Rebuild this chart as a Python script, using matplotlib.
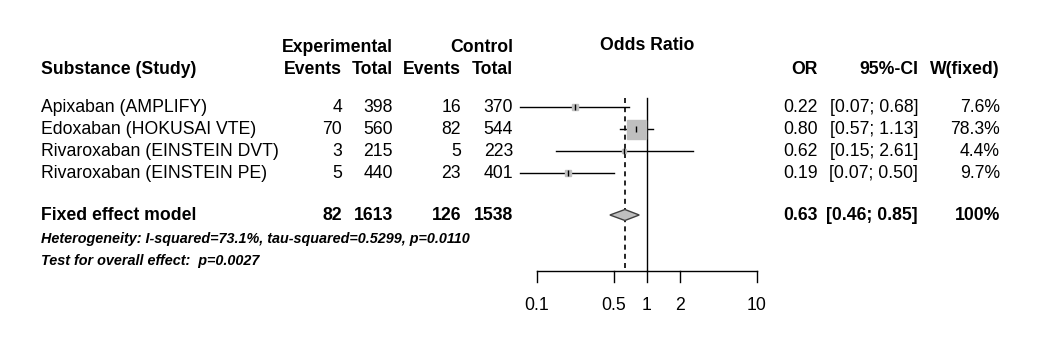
import matplotlib.pyplot as plt
import numpy as np

plt.rcParams["font.family"] = ["Liberation Sans", "DejaVu Sans"]

STUDIES = ["Apixaban (AMPLIFY)", "Edoxaban (HOKUSAI VTE)",
           "Rivaroxaban (EINSTEIN DVT)", "Rivaroxaban (EINSTEIN PE)"]
EVENTS_EXP = [4, 70, 3, 5]
TOTAL_EXP = [398, 560, 215, 440]
EVENTS_CTRL = [16, 82, 5, 23]
TOTAL_CTRL = [370, 544, 223, 401]
OR = [0.22, 0.80, 0.62, 0.19]
CI_LO = [0.07, 0.57, 0.15, 0.07]
CI_HI = [0.68, 1.13, 2.61, 0.50]
WEIGHT = [7.6, 78.3, 4.4, 9.7]

POOLED_OR = 0.63
POOLED_LO = 0.46
POOLED_HI = 0.85
POOLED_EV_EXP, POOLED_N_EXP = 82, 1613
POOLED_EV_CTRL, POOLED_N_CTRL = 126, 1538
HET_TEXT = "Heterogeneity: I-squared=73.1%, tau-squared=0.5299, p=0.0110"
TEST_TEXT = "Test for overall effect:  p=0.0027"
XTICKS = [0.1, 0.5, 1, 2, 10]

W, H = 1040, 350
fig = plt.figure(figsize=(W / 100, H / 100), dpi=100)

# text layer in pixel coordinates (y from top)
tax = fig.add_axes([0, 0, 1, 1])
tax.set_xlim(0, W)
tax.set_ylim(H, 0)
tax.axis("off")

# forest layer: 0.1 .. 10 on a log scale, same vertical pixel coords
fx0, fx1 = 537, 757
fax = fig.add_axes([fx0 / W, 0, (fx1 - fx0) / W, 1])
fax.set_xscale("log")
fax.set_xlim(0.1, 10)
fax.set_ylim(H, 0)
fax.axis("off")

FS = 12.7
row_y = [107, 129, 151, 173]
pooled_y = 215


def txt(x, y, s, ha="left", bold=False, **kw):
    tax.text(x, y, s, ha=ha, va="center", fontsize=kw.pop("fontsize", FS),
             fontweight="bold" if bold else "normal", **kw)


# headers
txt(41, 69, "Substance (Study)", bold=True)
txt(393, 47, "Experimental", ha="right", bold=True)
txt(513, 47, "Control", ha="right", bold=True)
txt(342, 69, "Events", ha="right", bold=True)
txt(393, 69, "Total", ha="right", bold=True)
txt(461, 69, "Events", ha="right", bold=True)
txt(513, 69, "Total", ha="right", bold=True)
txt(647, 45, "Odds Ratio", ha="center", bold=True)
txt(818, 69, "OR", ha="right", bold=True)
txt(918, 69, "95%-CI", ha="right", bold=True)
txt(1000, 69, "W(fixed)", ha="right", bold=True)

for i, y in enumerate(row_y):
    txt(41, y, STUDIES[i])
    txt(342, y, str(EVENTS_EXP[i]), ha="right")
    txt(393, y, str(TOTAL_EXP[i]), ha="right")
    txt(461, y, str(EVENTS_CTRL[i]), ha="right")
    txt(513, y, str(TOTAL_CTRL[i]), ha="right")
    txt(818, y, f"{OR[i]:.2f}", ha="right")
    txt(918, y, f"[{CI_LO[i]:.2f}; {CI_HI[i]:.2f}]", ha="right")
    txt(1000, y, f"{WEIGHT[i]:.1f}%", ha="right")

txt(41, pooled_y, "Fixed effect model", bold=True)
txt(342, pooled_y, str(POOLED_EV_EXP), ha="right", bold=True)
txt(393, pooled_y, str(POOLED_N_EXP), ha="right", bold=True)
txt(461, pooled_y, str(POOLED_EV_CTRL), ha="right", bold=True)
txt(513, pooled_y, str(POOLED_N_CTRL), ha="right", bold=True)
txt(818, pooled_y, f"{POOLED_OR:.2f}", ha="right", bold=True)
txt(918, pooled_y, f"[{POOLED_LO:.2f}; {POOLED_HI:.2f}]", ha="right", bold=True)
txt(1000, pooled_y, "100%", ha="right", bold=True)

txt(41, 239, HET_TEXT, bold=True, style="italic", fontsize=10.4)
txt(41, 261, TEST_TEXT, bold=True, style="italic", fontsize=10.4)

# forest marks
axis_y = 271
fax.plot([1, 1], [98, axis_y], color="black", lw=1, clip_on=False)
fax.plot([POOLED_OR, POOLED_OR], [98, axis_y], color="black", lw=1.2,
         ls=(0, (3, 2.5)), clip_on=False)

max_side = 19.0
for i, y in enumerate(row_y):
    fax.plot([CI_LO[i], CI_HI[i]], [y, y], color="black", lw=1, clip_on=False)
    side = max_side * np.sqrt(WEIGHT[i] / max(WEIGHT))
    fax.plot([OR[i]], [y], marker="s", ms=side * 0.72, color="#bfbfbf",
             mec="#bfbfbf", clip_on=False, zorder=3)
    fax.plot([OR[i]], [y], marker="|", ms=5, color="black", mew=1,
             clip_on=False, zorder=4)

dh = 5.5
fax.fill([POOLED_LO, POOLED_OR, POOLED_HI, POOLED_OR],
         [pooled_y, pooled_y - dh, pooled_y, pooled_y + dh],
         facecolor="#bfbfbf", edgecolor="#404040", lw=1, clip_on=False, zorder=3)

# x axis drawn manually (R base style)
fax.plot([XTICKS[0], XTICKS[-1]], [axis_y, axis_y], color="black", lw=1, clip_on=False)
for t in XTICKS:
    fax.plot([t, t], [axis_y, axis_y + 11], color="black", lw=1, clip_on=False)
    fax.text(t, 305, f"{t:g}", ha="center", va="center", fontsize=FS)

fig.savefig("out.png", dpi=100, facecolor="white")
